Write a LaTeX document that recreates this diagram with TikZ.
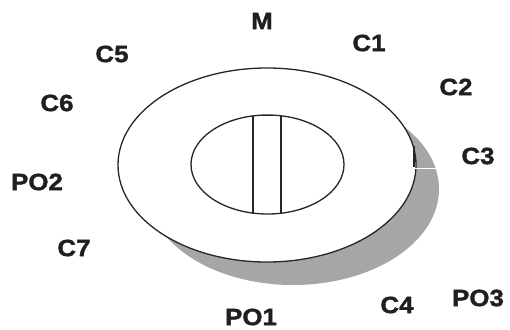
\documentclass[tikz,border=0pt]{standalone}
\usepackage{fontspec}
\setmainfont{Liberation Sans}
\newfontfamily\lblfont{Liberation Sans Bold}[FakeBold=1.6, FakeStretch=1.1]
\begin{document}
\begin{tikzpicture}[x=1pt,y=-1pt,
  lbl/.style={font=\fontsize{23.5}{24}\lblfont, inner sep=0pt, text=black!88},
  rim/.style={draw=black!85, line width=1.3pt}]
\useasboundingbox (0,0) rectangle (510,329);
% shadow
\fill[black!35] (293,189) ellipse [x radius=146, y radius=96];
% outer disc
\filldraw[fill=white, rim] (267,165) ellipse [x radius=149, y radius=97];
% small artifact at right
\draw[white, line width=1pt] (413,168) -- (440,168);
\draw[black!85, line width=1.2pt] (414,146) -- (414,167);
% inner ellipse
\draw[rim] (267.5,164.5) ellipse [x radius=76.5, y radius=49.5];
\draw[rim] (253,115.5) -- (253,213.5);
\draw[rim] (281,115.3) -- (281,213.7);
\draw[rim] (253,115.3) -- (281,115.3);
% labels
\node[lbl] (M) at (262,21) {M};
\node[lbl] (C1) at (369,43) {C1};
\node[lbl] (C2) at (456,87) {C2};
\node[lbl] (C3) at (478,156) {C3};
\node[lbl] (C4) at (397,305) {C4};
\node[lbl] (PO3) at (478,298) {PO3};
\node[lbl] (PO1) at (251,317) {PO1};
\node[lbl] (C7) at (74,248) {C7};
\node[lbl] (PO2) at (37,182) {PO2};
\node[lbl] (C6) at (57,103) {C6};
\node[lbl] (C5) at (112,54) {C5};
\end{tikzpicture}
\end{document}
